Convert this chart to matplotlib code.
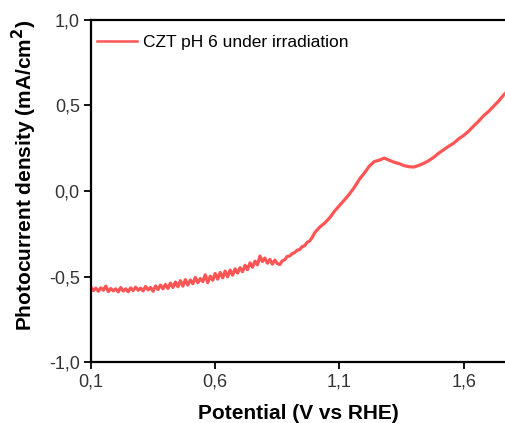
import matplotlib
matplotlib.use('Agg')
import matplotlib.pyplot as plt
import numpy as np
from matplotlib.ticker import FuncFormatter

plt.rcParams['font.family'] = ['Liberation Sans', 'DejaVu Sans']

# potential (V vs RHE)
potential_fine = [round(0.10 + 0.01 * i, 2) for i in range(90)]
current_fine = [
    -0.562, -0.582, -0.568, -0.586, -0.566, -0.580, -0.556, -0.588, -0.570, -0.584,
    -0.572, -0.590, -0.564, -0.585, -0.572, -0.589, -0.566, -0.582, -0.562, -0.580,
    -0.568, -0.584, -0.558, -0.578, -0.564, -0.586, -0.555, -0.576, -0.550, -0.572,
    -0.546, -0.570, -0.538, -0.564, -0.532, -0.560, -0.524, -0.556, -0.518, -0.550,
    -0.520, -0.542, -0.505, -0.536, -0.512, -0.530, -0.490, -0.536, -0.498, -0.522,
    -0.482, -0.515, -0.476, -0.508, -0.468, -0.502, -0.462, -0.492, -0.455, -0.480,
    -0.448, -0.472, -0.434, -0.460, -0.420, -0.446, -0.410, -0.432, -0.380, -0.412,
    -0.392, -0.422, -0.400, -0.428, -0.404, -0.424, -0.430, -0.408, -0.402, -0.382,
    -0.380, -0.366, -0.360, -0.346, -0.342, -0.325, -0.320, -0.300, -0.292, -0.272,
]
potential_coarse = [round(1.00 + 0.02 * i, 2) for i in range(40)]
current_coarse = [
    -0.245, -0.212, -0.188, -0.158, -0.118, -0.085, -0.052, -0.018, 0.022, 0.068,
    0.105, 0.145, 0.172, 0.180, 0.192, 0.180, 0.168, 0.160, 0.148, 0.142,
    0.140, 0.150, 0.162, 0.178, 0.198, 0.222, 0.242, 0.262, 0.280, 0.305,
    0.325, 0.350, 0.380, 0.408, 0.440, 0.465, 0.495, 0.525, 0.560, 0.590,
]
potential = potential_fine + potential_coarse
current = current_fine + current_coarse

xticks = [0.1, 0.6, 1.1, 1.6]
yticks = [-1.0, -0.5, 0.0, 0.5, 1.0]

fig = plt.figure(figsize=(5.05, 4.23), dpi=100)
ax = fig.add_axes([0.180, 0.144, 0.822, 0.809])

ax.plot(potential, current, color='#ff5555', lw=2.3, label='CZT pH 6 under irradiation')

ax.set_xlim(0.1, 1.77)
ax.set_ylim(-1.0, 1.0)
ax.set_xticks(xticks)
ax.set_yticks(yticks)
comma = FuncFormatter(lambda v, p: f'{v:.1f}'.replace('.', ','))
ax.xaxis.set_major_formatter(comma)
ax.yaxis.set_major_formatter(comma)
ax.tick_params(direction='out', length=5, width=1.3, labelsize=13, labelcolor='#333333', pad=3)

for s in ax.spines.values():
    s.set_linewidth(1.6)

ax.set_xlabel('Potential (V vs RHE)', fontsize=15, fontweight='bold', labelpad=10)
ax.set_ylabel('Photocurrent density (mA/cm$^\\mathbf{2}$)', fontsize=15, fontweight='bold')
ax.yaxis.set_label_coords(-0.125, 0.547)

leg = ax.legend(loc='upper left', bbox_to_anchor=(0.006, 0.966), frameon=False,
                fontsize=12.5, handlelength=2.3, handletextpad=0.35,
                borderaxespad=0, borderpad=0.2)
leg.get_lines()[0].set_linewidth(1.8)

fig.savefig('out.png', dpi=100)
